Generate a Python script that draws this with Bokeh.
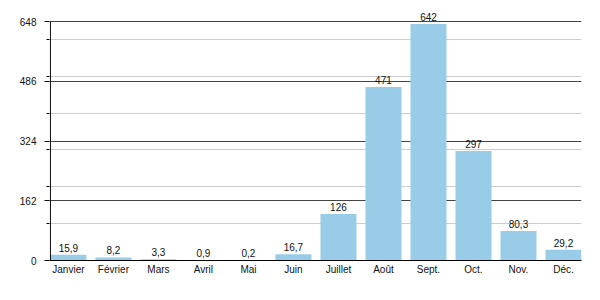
from bokeh.plotting import figure
from bokeh.models import Range1d, FixedTicker, ColumnDataSource, LabelSet
from bokeh.core.properties import value
from bokeh.embed import file_html
from bokeh.resources import INLINE

months = ["Janvier", "Février", "Mars", "Avril", "Mai", "Juin", "Juillet",
          "Août", "Sept.", "Oct.", "Nov.", "Déc."]
rain = [15.9, 8.2, 3.3, 0.9, 0.2, 16.7, 126, 471, 642, 297, 80.3, 29.2]
y_major = [0, 162, 324, 486, 648]
y_minor = [100, 200, 300, 400, 500, 600]

def fmt(v):
    if v >= 100:
        return str(int(round(v)))
    return ("%.1f" % v).replace(".", ",")

xs = list(range(len(months)))
src = ColumnDataSource(dict(x=xs, y=rain, lab=[fmt(v) for v in rain]))

FONT = "Liberation Sans"
Y_TOP = y_major[-1]

p = figure(width=600, height=300, output_backend="svg", toolbar_location=None,
           x_range=Range1d(-0.42, 11.4), y_range=Range1d(0, 700),
           min_border_left=49, min_border_right=19, min_border_top=2,
           min_border_bottom=40)
p.outline_line_color = None
p.background_fill_color = "white"

p.vbar(x="x", top="y", width=0.8, bottom=0, source=src,
       fill_color="#99CCE6", line_color=None)

# y axis line, ending at the top tick
p.segment(x0=[-0.4], y0=[0], x1=[-0.4], y1=[Y_TOP], line_color="black",
          line_width=1)

labels = LabelSet(x="x", y="y", text="lab", source=src, text_align="center",
                  text_baseline="bottom", y_offset=3,
                  text_font_size=value("10px"), text_font=value(FONT),
                  text_color=value("#111111"))
p.add_layout(labels)

# x axis
p.xaxis.ticker = FixedTicker(ticks=xs)
p.xaxis.major_label_overrides = {i: m for i, m in enumerate(months)}
p.xaxis.major_tick_out = 0
p.xaxis.major_tick_in = 0
p.xaxis.minor_tick_out = 0
p.xaxis.minor_tick_in = 0
p.xaxis.axis_line_color = "black"
p.xaxis.major_label_standoff = 3
p.xaxis.major_label_text_font_size = "10px"
p.xaxis.major_label_text_font = FONT
p.xaxis.major_label_text_color = "#111111"
p.xgrid.grid_line_color = None

# y axis
p.yaxis.ticker = FixedTicker(ticks=y_major, minor_ticks=y_minor)
p.yaxis.axis_line_color = None
p.yaxis.major_tick_out = 5
p.yaxis.major_tick_in = 0
p.yaxis.minor_tick_out = 3
p.yaxis.minor_tick_in = 0
p.yaxis.major_tick_line_color = "black"
p.yaxis.minor_tick_line_color = "black"
p.yaxis.major_label_standoff = 8
p.yaxis.major_label_text_font_size = "10px"
p.yaxis.major_label_text_font = FONT
p.yaxis.major_label_text_color = "#111111"

p.ygrid.grid_line_color = "#444444"
p.ygrid.grid_line_width = 1
p.ygrid.minor_grid_line_color = "#cccccc"
p.ygrid.minor_grid_line_width = 1
p.ygrid.level = "underlay"

open("out.html", "w").write(file_html(p, INLINE))
